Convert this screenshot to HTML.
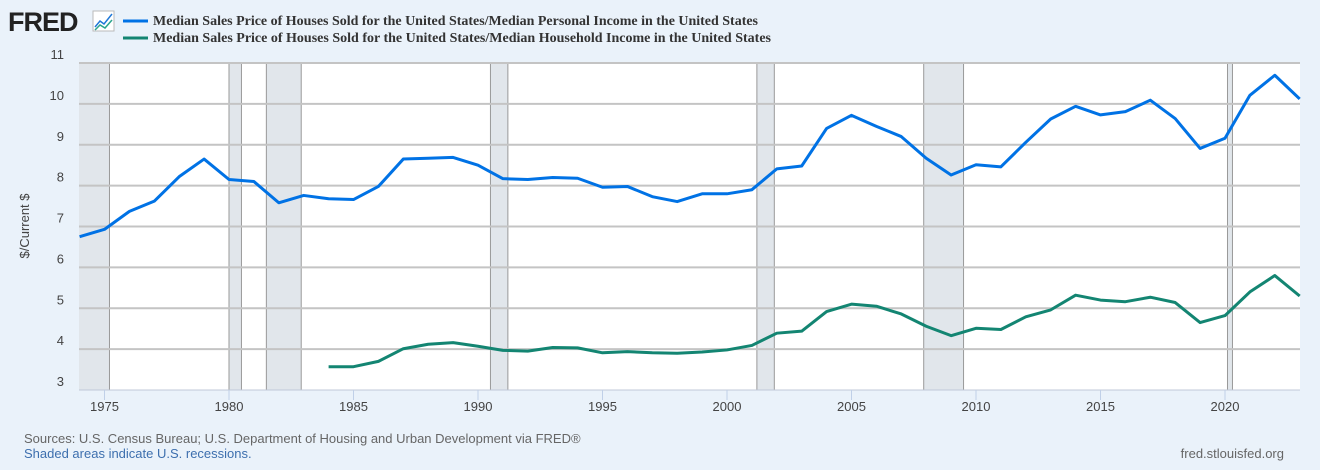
<!DOCTYPE html>
<html><head><meta charset="utf-8"><style>
body{margin:0;width:1320px;height:465px;background:#eaf2fa;overflow:hidden;font-family:"Liberation Sans",Arial,sans-serif}
</style></head><body>
<svg width="1320" height="465" id="chart" xmlns="http://www.w3.org/2000/svg">
<g>
<text x="8" y="31" font-family="Liberation Sans" font-weight="bold" font-size="27" fill="#222" letter-spacing="-1">FRED</text>
<rect x="93" y="11" width="21" height="20" fill="#fff" stroke="#bbb"/>
<polyline points="95,27 100,21 104,24 112,14" fill="none" stroke="#1f78d8" stroke-width="1.5"/>
<polyline points="95,30 100,25 105,28 112,20" fill="none" stroke="#2ca58d" stroke-width="1.5"/>
</g>
<g font-family="Liberation Serif" font-weight="bold" font-size="14" fill="#333">
<g><line x1="123" y1="21" x2="148" y2="21" stroke="#0072e5" stroke-width="3"/><text x="153" y="25" textLength="605" lengthAdjust="spacingAndGlyphs">Median Sales Price of Houses Sold for the United States/Median Personal Income in the United States</text></g>
<g><line x1="123" y1="38" x2="148" y2="38" stroke="#138572" stroke-width="3"/><text x="153" y="42" textLength="618" lengthAdjust="spacingAndGlyphs">Median Sales Price of Houses Sold for the United States/Median Household Income in the United States</text></g>
</g>
<rect x="79" y="63" width="1221" height="327" fill="#fff"/>
<g id="rec"></g>
<g id="grid"></g>
<g id="yt" font-size="13" fill="#444" text-anchor="end"></g>
<g id="xt" font-size="13" fill="#444" text-anchor="middle"></g>
<text transform="translate(29,226) rotate(-90)" text-anchor="middle" font-size="13" fill="#444">$/Current $</text>
<g id="series"></g>
<text x="24" y="443" font-size="13" fill="#666">Sources: U.S. Census Bureau; U.S. Department of Housing and Urban Development via FRED®</text>
<text x="24" y="458" font-size="13" fill="#3d6fae">Shaded areas indicate U.S. recessions.</text>
<text x="1284" y="458" font-size="13" fill="#666" text-anchor="end">fred.stlouisfed.org</text>
</svg>
<script>
const personalYears=[1974,1975,1976,1977,1978,1979,1980,1981,1982,1983,1984,1985,1986,1987,1988,1989,1990,1991,1992,1993,1994,1995,1996,1997,1998,1999,2000,2001,2002,2003,2004,2005,2006,2007,2008,2009,2010,2011,2012,2013,2014,2015,2016,2017,2018,2019,2020,2021,2022,2023];
const personalValues=[6.75,6.93,7.37,7.62,8.22,8.65,8.15,8.10,7.58,7.76,7.68,7.66,7.98,8.65,8.67,8.69,8.50,8.17,8.15,8.20,8.18,7.96,7.98,7.73,7.61,7.80,7.80,7.90,8.41,8.48,9.40,9.72,9.45,9.20,8.67,8.26,8.51,8.46,9.06,9.63,9.94,9.73,9.81,10.09,9.64,8.91,9.16,10.21,10.70,10.12];
const householdYears=[1984,1985,1986,1987,1988,1989,1990,1991,1992,1993,1994,1995,1996,1997,1998,1999,2000,2001,2002,2003,2004,2005,2006,2007,2008,2009,2010,2011,2012,2013,2014,2015,2016,2017,2018,2019,2020,2021,2022,2023];
const householdValues=[3.57,3.57,3.70,4.01,4.12,4.16,4.07,3.97,3.95,4.04,4.03,3.91,3.94,3.91,3.90,3.93,3.98,4.09,4.39,4.44,4.92,5.10,5.05,4.86,4.56,4.33,4.51,4.48,4.79,4.96,5.32,5.20,5.16,5.27,5.14,4.65,4.82,5.40,5.80,5.30];
const recessionStarts=[1973.9,1980.0,1981.5,1990.5,2001.2,2007.9,2020.1];
const recessionEnds=[1975.2,1980.5,1982.9,1991.2,2001.9,2009.5,2020.3];
const yTicks=[3,4,5,6,7,8,9,10,11];
const xTicks=[1975,1980,1985,1990,1995,2000,2005,2010,2015,2020];

const NS="http://www.w3.org/2000/svg";
const L=79,R=1300,T=63,B=390;
const x=v=>104.5+(v-1975)*24.9;
const y=v=>B-(v-3)*(B-T)/8;
function mk(tag,attrs,parent){const e=document.createElementNS(NS,tag);for(const k in attrs)e.setAttribute(k,attrs[k]);document.getElementById(parent).appendChild(e);return e;}
recessionStarts.forEach((s,i)=>{
  const x0=Math.max(L,x(s)),x1=Math.min(R,x(recessionEnds[i]));
  const r=mk('rect',{x:x0,y:T,width:x1-x0,height:B-T,fill:'#e1e6eb'},'rec');
  
  
  [x0,x1].forEach(xx=>{if(xx>L+1){const l=mk('line',{x1:xx,x2:xx,y1:T,y2:B,stroke:'#999','stroke-width':1},'rec');
    
    }});
});
yTicks.forEach(t=>{
  if(t>3){const g=mk('line',{x1:L,x2:R,y1:y(t),y2:y(t),stroke:'#c4c4c4','stroke-width':2},'grid');
  
  }
  const tx=mk('text',{x:64,y:y(t)-4},'yt');tx.textContent=t;
  
  
});
const ax=mk('line',{x1:L,x2:R,y1:B,y2:B,stroke:'#c0c8d8','stroke-width':1},'grid');


xTicks.forEach(t=>{
  const tl=mk('line',{x1:x(t),x2:x(t),y1:B,y2:B+10,stroke:'#c0d0e8'},'xt');
  
  
  const tx=mk('text',{x:x(t),y:B+21},'xt');tx.textContent=t;
  
  
});
function line(xs,vs,col,name){
  const p=mk('polyline',{points:xs.map((a,i)=>x(a)+','+y(vs[i])).join(' '),fill:'none',stroke:col,'stroke-width':3,'stroke-linejoin':'round'},'series');
  
  
}
line(householdYears,householdValues,'#138572','household-income-line');
line(personalYears,personalValues,'#0072e5','personal-income-line');
</script>
</body></html>
